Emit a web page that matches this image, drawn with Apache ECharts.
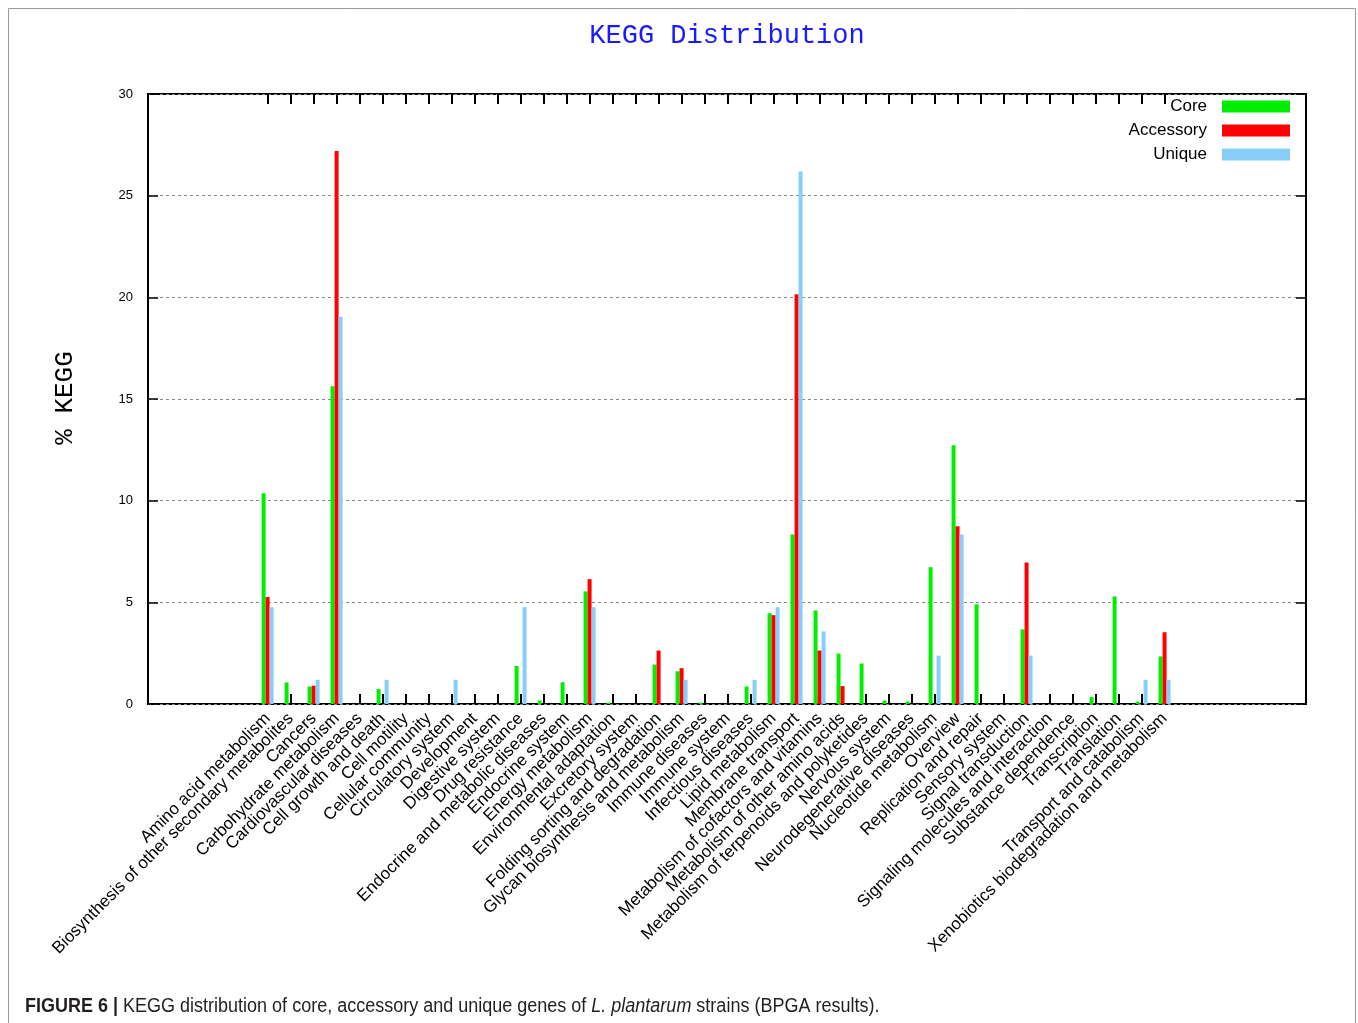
<!DOCTYPE html>
<html>
<head>
<meta charset="utf-8">
<script src="https://cdn.jsdelivr.net/npm/echarts@6/dist/echarts.min.js"></script>
<style>
html,body{margin:0;padding:0;background:#fff;}
#chart{width:1358px;height:1023px;}
</style>
</head>
<body>
<div id="chart"></div>
<script>
const categories = [
  "Amino acid metabolism",
  "Biosynthesis of other secondary metabolites",
  "Cancers",
  "Carbohydrate metabolism",
  "Cardiovascular diseases",
  "Cell growth and death",
  "Cell motility",
  "Cellular community",
  "Circulatory system",
  "Development",
  "Digestive system",
  "Drug resistance",
  "Endocrine and metabolic diseases",
  "Endocrine system",
  "Energy metabolism",
  "Environmental adaptation",
  "Excretory system",
  "Folding sorting and degradation",
  "Glycan biosynthesis and metabolism",
  "Immune diseases",
  "Immune system",
  "Infectious diseases",
  "Lipid metabolism",
  "Membrane transport",
  "Metabolism of cofactors and vitamins",
  "Metabolism of other amino acids",
  "Metabolism of terpenoids and polyketides",
  "Nervous system",
  "Neurodegenerative diseases",
  "Nucleotide metabolism",
  "Overview",
  "Replication and repair",
  "Sensory system",
  "Signal transduction",
  "Signaling molecules and interaction",
  "Substance dependence",
  "Transcription",
  "Translation",
  "Transport and catabolism",
  "Xenobiotics biodegradation and metabolism"
];
const core = [10.36, 1.06, 0.86, 15.63, 0, 0.73, 0, 0, 0, 0, 0, 1.87, 0.17, 1.07, 5.54, 0.07, 0, 1.94, 1.61, 0.07,
              0, 0.86, 4.47, 8.34, 4.6, 2.48, 1.99, 0.17, 0.12, 6.72, 12.72, 4.9, 0, 3.67, 0, 0, 0.34, 5.29, 0.12, 2.34];
const accessory = [5.26, 0, 0.9, 27.2, 0, 0, 0, 0, 0, 0, 0, 0, 0, 0, 6.14, 0, 0, 2.63, 1.76, 0,
                   0, 0, 4.37, 20.15, 2.63, 0.88, 0, 0, 0, 0, 8.74, 0, 0, 6.96, 0, 0, 0, 0, 0, 3.53];
const unique = [4.76, 0, 1.19, 19.05, 0, 1.19, 0, 0, 1.19, 0, 0, 4.76, 0, 0, 4.76, 0, 0, 0, 1.19, 0,
                0, 1.19, 4.76, 26.19, 3.57, 0, 0, 0, 0, 2.38, 8.33, 0, 0, 2.38, 0, 0, 0, 0, 1.19, 1.19];
const seriesNames = ["Core", "Accessory", "Unique"];
const seriesColors = ["#00ee00", "#ff0000", "#87cefa"];
const titleText = "KEGG Distribution";
const yName = "% KEGG";

const idx = categories.map((c, i) => i);
const X_MIN = -5.2, X_MAX = 45.15;
// empty guard labels at both ends so the min/max-label overlap rule never hides a real label
const labelValues = [-5].concat(idx, [45]);
const SANS = "'Liberation Sans', Arial, Helvetica, sans-serif";
const MONO = "'Liberation Mono', 'Courier New', Courier, monospace";

const chart = echarts.init(document.getElementById('chart'), null, {renderer: 'canvas'});
const tickStyle = {color: '#000', width: 2};
const option = {
  animation: false,
  backgroundColor: '#fff',
  legend: {
    orient: 'vertical', right: 63, top: 93, align: 'right',
    itemWidth: 68, itemHeight: 12, itemGap: 7, icon: 'rect',
    data: seriesNames,
    textStyle: {fontFamily: SANS, fontSize: 17, color: '#000', padding: [0, 10, 0, 0]}
  },
  grid: {
    left: 148, top: 94, width: 1158, height: 610,
    show: true, borderColor: '#000', borderWidth: 2, backgroundColor: 'transparent',
    containLabel: false, outerBoundsMode: 'none'
  },
  xAxis: [{
    type: 'value', position: 'bottom', min: X_MIN, max: X_MAX,
    axisLine: {show: false, onZero: false},
    splitLine: {show: false},
    axisTick: {show: true, inside: true, length: 10, customValues: idx, lineStyle: tickStyle},
    axisLabel: {
      show: true, customValues: labelValues, rotate: 45, margin: 12,
      showMinLabel: false, showMaxLabel: false, hideOverlap: false,
      formatter: v => {
        const k = Math.round(v);
        return (k >= 0 && k < categories.length) ? categories[k] : '';
      },
      fontFamily: SANS, fontSize: 17, color: '#000'
    }
  }, {
    type: 'value', position: 'top', min: X_MIN, max: X_MAX,
    axisLine: {show: false, onZero: false}, splitLine: {show: false},
    axisTick: {show: true, inside: true, length: 10, customValues: idx, lineStyle: tickStyle},
    axisLabel: {show: false}
  }],
  yAxis: [{
    type: 'value', position: 'left', min: 0, max: 30, interval: 5,
    axisLine: {show: false, onZero: false},
    axisTick: {show: true, inside: true, length: 10, lineStyle: {color: '#000', width: 1.5}},
    axisLabel: {fontFamily: SANS, fontSize: 13, color: '#000', margin: 15},
    splitLine: {show: true, lineStyle: {color: '#888', width: 1, type: [3, 3]}}
  }, {
    type: 'value', min: 0, max: 30, interval: 5, position: 'right',
    axisLine: {show: false, onZero: false},
    axisTick: {show: true, inside: true, length: 10, lineStyle: {color: '#000', width: 1.5}},
    axisLabel: {show: false},
    splitLine: {show: false}
  }],
  series: [core, accessory, unique].map((arr, s) => ({
    name: seriesNames[s], type: 'bar', xAxisIndex: 0, yAxisIndex: 0,
    barWidth: 4, barGap: '0%',
    itemStyle: {color: seriesColors[s]},
    data: arr.map((v, i) => [i, v])
  })),
  graphic: [
    {type: 'rect', silent: true, z: -10, shape: {x: 8.5, y: 8.5, width: 1347, height: 1030},
     style: {fill: 'none', stroke: '#9a9a9a', lineWidth: 1}},
    {type: 'text', x: 727, y: 36,
     style: {text: titleText, font: "normal 27px " + MONO, fill: '#1a1aff', align: 'center', verticalAlign: 'middle'}},
    {type: 'text', x: 65, y: 398, rotation: Math.PI / 2,
     style: {text: yName, font: "normal 26px " + MONO, fill: '#000', align: 'center', verticalAlign: 'middle'}},
    {type: 'text', x: 25, y: 1006, scaleX: 0.9, scaleY: 1,
     style: {
       text: '{b|FIGURE 6 |} {n|KEGG distribution of core, accessory and unique genes of }{i|L. plantarum}{n| strains (BPGA results).}',
       verticalAlign: 'middle', align: 'left',
       font: "normal 20px " + SANS, fill: '#231f20',
       rich: {
         b: {fontWeight: 'bold', fontSize: 20, fontFamily: SANS, fill: '#231f20'},
         n: {fontSize: 20, fontFamily: SANS, fill: '#231f20'},
         i: {fontStyle: 'italic', fontSize: 20, fontFamily: SANS, fill: '#231f20'}
       }
     }}
  ]
};
chart.setOption(option);
</script>
</body>
</html>
